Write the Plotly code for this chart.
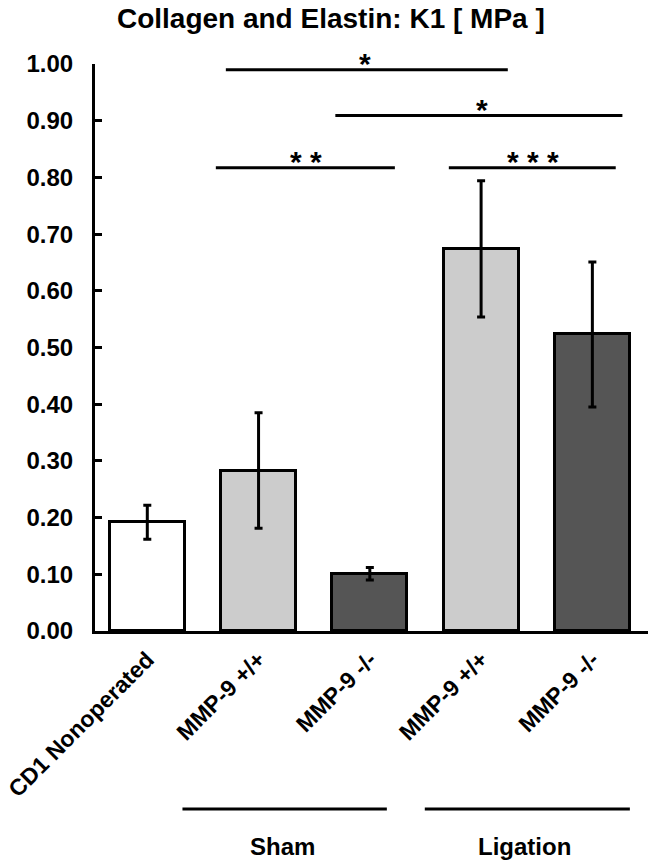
import plotly.graph_objects as go

# ---- data ----
x_pos = [0, 1, 2, 3, 4]
tick_labels = ["CD1 Nonoperated", "MMP-9 +/+", "MMP-9 -/-", "MMP-9 +/+", "MMP-9 -/-"]
values = [0.192, 0.283, 0.101, 0.674, 0.523]
errors = [0.030, 0.102, 0.011, 0.120, 0.128]
bar_colors = ["#ffffff", "#cccccc", "#555555", "#cccccc", "#555555"]

y_ticks = [0.0, 0.1, 0.2, 0.3, 0.4, 0.5, 0.6, 0.7, 0.8, 0.9, 1.0]
y_tick_text = ["%.2f" % v for v in y_ticks]

# significance brackets
sig_x0 = [0.706, 1.69, 0.616, 2.71]
sig_x1 = [3.24, 4.27, 2.225, 4.21]
sig_y = [0.990, 0.909, 0.817, 0.817]
sig_text = ["*", "*", "*\u00a0*", "*\u00a0*\u00a0*"]
sig_text_x = [1.955, 3.007, 1.43, 3.465]

# group labels under the axis
group_names = ["Sham", "Ligation"]
group_x0 = [0.316, 2.494]
group_x1 = [2.153, 4.337]
group_text_x = [1.218, 3.393]

FONT = "Liberation Sans, Arial, sans-serif"

fig = go.Figure()
fig.add_trace(go.Bar(
    x=x_pos, y=values, width=0.674,
    marker=dict(color=bar_colors, line=dict(color="black", width=3)),
    error_y=dict(type="data", array=errors, visible=True, color="black",
                 thickness=3, width=4),
    showlegend=False,
))

shapes = []
annotations = []
for x0, x1, y, t, tx in zip(sig_x0, sig_x1, sig_y, sig_text, sig_text_x):
    shapes.append(dict(type="line", xref="x", yref="y", x0=x0, x1=x1, y0=y, y1=y,
                       line=dict(color="black", width=3)))
    annotations.append(dict(x=tx, y=y, xref="x", yref="y", text="<b>%s</b>" % t,
                            showarrow=False, yanchor="middle", yshift=6,
                            font=dict(family=FONT, size=30, color="black")))

for name, x0, x1, tx in zip(group_names, group_x0, group_x1, group_text_x):
    shapes.append(dict(type="line", xref="x", yref="paper", x0=x0, x1=x1,
                       y0=-0.314, y1=-0.314, line=dict(color="black", width=3)))
    annotations.append(dict(x=tx, y=-0.380, xref="x", yref="paper",
                            text="<b>%s</b>" % name, showarrow=False,
                            yanchor="middle",
                            font=dict(family=FONT, size=24, color="black")))

fig.update_layout(
    width=650, height=860,
    margin=dict(l=95, r=2, t=64, b=229, autoexpand=False),
    paper_bgcolor="white", plot_bgcolor="white",
    font=dict(family=FONT, color="black"),
    title=dict(text="<b>Collagen and Elastin: K1 [ MPa ]</b>",
               xref="container", x=0.509, xanchor="center",
               yref="container", y=0.979, yanchor="middle",
               font=dict(family=FONT, size=28, color="black")),
    shapes=shapes, annotations=annotations,
    bargap=0,
)
fig.update_xaxes(
    range=[-0.47, 4.5], tickmode="array", tickvals=x_pos,
    ticktext=["<b>%s</b>" % t for t in tick_labels], tickangle=-45,
    tickfont=dict(family=FONT, size=23, color="black"),
    ticklabeloverflow="allow", ticklabelstandoff=3,
    showline=True, linecolor="black", linewidth=3, ticks="",
    showgrid=False, zeroline=False, automargin=False,
)
fig.update_yaxes(
    range=[0, 1.0], tickmode="array", tickvals=y_ticks,
    ticktext=["<b>%s</b>" % t for t in y_tick_text],
    tickfont=dict(family=FONT, size=24, color="black"),
    showline=True, linecolor="black", linewidth=3,
    ticks="inside", ticklen=7, tickwidth=3, tickcolor="black",
    ticklabelstandoff=14,
    showgrid=False, zeroline=False, automargin=False,
)

fig.write_html("out.html", config={"displayModeBar": False},
               post_script="document.body.style.margin='0';document.body.style.overflow='hidden';")
